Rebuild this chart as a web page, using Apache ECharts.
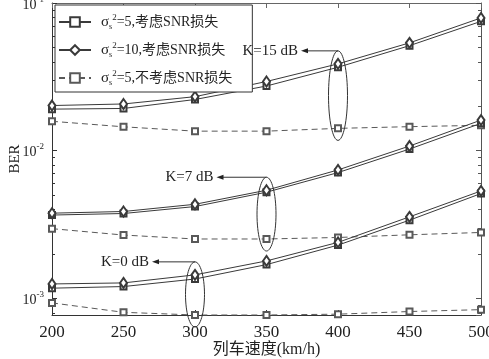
<!DOCTYPE html>
<html><head><meta charset="utf-8">
<script src="https://cdn.jsdelivr.net/npm/echarts@6/dist/echarts.min.js"></script>
<style>html,body{margin:0;padding:0;background:#fff}#c{width:489px;height:359px}</style>
</head><body><div id="c"></div>
<script>
// ---- data ----
const speeds = [200, 250, 300, 350, 400, 450, 500];
const xTicks = [200, 250, 300, 350, 400, 450, 500];
const yTickExps = [-3, -2, -1];
// K = 15 dB
const k15_s5_loss   = [0.0191, 0.0193, 0.0222, 0.0274, 0.0367, 0.0514, 0.0751];
const k15_s10_loss  = [0.0202, 0.0207, 0.0232, 0.0294, 0.0387, 0.0537, 0.0792];
const k15_s5_noloss = [0.0158, 0.0145, 0.01355, 0.01355, 0.01415, 0.01453, 0.01484];
// K = 7 dB
const k7_s5_loss    = [0.00366, 0.00375, 0.00418, 0.00523, 0.00710, 0.01025, 0.0153];
const k7_s10_loss   = [0.00377, 0.00387, 0.00433, 0.00539, 0.00740, 0.01074, 0.0161];
const k7_s5_noloss  = [0.00296, 0.00268, 0.00252, 0.00252, 0.00258, 0.00269, 0.00279];
// K = 0 dB
const k0_s5_loss    = [0.00117, 0.00120, 0.00135, 0.00169, 0.00229, 0.00338, 0.00512];
const k0_s10_loss   = [0.00125, 0.00127, 0.00144, 0.00179, 0.00239, 0.00356, 0.00533];
const k0_s5_noloss  = [0.00093, 0.000803, 0.00077, 0.00077, 0.00078, 0.000813, 0.000837];

const legendSigma = ['5', '10', '5'];
const legendSuffix = ['考虑SNR损失', '考虑SNR损失', '不考虑SNR损失'];
const annText = ['K=15 dB', 'K=7 dB', 'K=0 dB'];
const annSpeed = [400, 350, 300];
const xName = '列车速度(km/h)';
const yName = 'BER';

const yMin = 0.00077, yMax = 0.1;
const SERIF = '"Liberation Serif","Noto Sans CJK SC",serif';
const names = legendSigma.map((s, i) => 'σs2=' + s + ',' + legendSuffix[i]);

const groups = [
  [k15_s5_loss, k15_s10_loss, k15_s5_noloss],
  [k7_s5_loss, k7_s10_loss, k7_s5_noloss],
  [k0_s5_loss, k0_s10_loss, k0_s5_noloss]
];
const styles = [
  {symbol: 'emptyRect', symbolSize: 6, color: '#3a3a3a', type: 'solid'},
  {symbol: 'emptyDiamond', symbolSize: [7, 10], color: '#3a3a3a', type: 'solid'},
  {symbol: 'emptyRect', symbolSize: 6, color: '#595959', type: [6, 4]}
];
const series = [];
groups.forEach(g => g.forEach((vals, j) => {
  const st = styles[j];
  series.push({
    type: 'line', name: names[j], clip: false,
    data: speeds.map((x, i) => [x, vals[i]]),
    symbol: st.symbol, symbolSize: st.symbolSize, showAllSymbol: true,
    itemStyle: {color: st.color, borderColor: st.color, borderWidth: 1},
    lineStyle: {color: st.color, width: 1, type: st.type},
    emphasis: {disabled: true}, animation: false, z: 3
  });
}));

const chart = echarts.init(document.getElementById('c'), null, {renderer: 'canvas'});
const isPow = v => Math.abs(Math.log10(v) - Math.round(Math.log10(v))) < 1e-6;
const axisCol = '#333';
const option = {
  backgroundColor: '#fff',
  animation: false,
  grid: {left: 52, right: 8, top: 3, bottom: 44, containLabel: false, outerBoundsMode: 'none'},
  legend: {
    show: true, orient: 'vertical', left: 55, top: 5,
    data: names,
    backgroundColor: '#fff', borderColor: '#333', borderWidth: 1,
    padding: [8, 20, 5, 3], itemGap: 10, itemWidth: 32, itemHeight: 12,
    selectedMode: false,
    formatter: function (n) {
      const i = names.indexOf(n);
      return '{g|σ}{sub|s}{sup|2}{t|=' + legendSigma[i] + ',' + legendSuffix[i] + '}';
    },
    textStyle: {
      color: '#222', fontFamily: SERIF,
      rich: {
        g: {fontSize: 15, fontFamily: SERIF, padding: [0, 0, 0, 5], lineHeight: 18, color: '#222'},
        sub: {fontSize: 8, fontFamily: SERIF, verticalAlign: 'bottom', lineHeight: 18, color: '#222'},
        sup: {fontSize: 9, fontFamily: SERIF, verticalAlign: 'top', lineHeight: 18, color: '#222'},
        t: {fontSize: 14, fontFamily: SERIF, lineHeight: 18, color: '#222'}
      }
    }
  },
  xAxis: [{
    type: 'value', min: 200, max: 500, interval: 50, position: 'bottom',
    axisLine: {show: true, lineStyle: {color: axisCol, width: 1}},
    axisTick: {show: true, inside: true, length: 5, lineStyle: {color: axisCol}},
    axisLabel: {fontFamily: SERIF, fontSize: 17, color: '#222', margin: 9,
      formatter: v => xTicks.includes(v) ? String(v) : ''},
    splitLine: {show: false}
  }, {
    type: 'value', min: 200, max: 500, interval: 50, position: 'top',
    axisLine: {show: true, onZero: false, lineStyle: {color: '#666', width: 1}},
    axisTick: {show: true, inside: true, length: 5, lineStyle: {color: '#666'}},
    axisLabel: {show: false}, splitLine: {show: false}
  }],
  yAxis: [{
    type: 'log', logBase: 10, min: yMin, max: yMax, position: 'left',
    axisLine: {show: true, onZero: false, lineStyle: {color: axisCol, width: 1}},
    axisTick: {show: true, inside: true, length: 5, lineStyle: {color: axisCol}},
    axisLabel: {
      margin: 8, fontFamily: SERIF, color: '#222',
      formatter: v => isPow(v) && yTickExps.includes(Math.round(Math.log10(v))) ? '{b|10}{s|' + Math.round(Math.log10(v)) + '}' : '',
      rich: {
        b: {fontSize: 14, fontFamily: SERIF, lineHeight: 16, color: '#222', padding: [4, 0, 0, 0]},
        s: {fontSize: 9, fontFamily: SERIF, verticalAlign: 'top', lineHeight: 16, color: '#222'}
      }
    },
    splitLine: {show: false}
  }, {
    type: 'log', logBase: 10, min: yMin, max: yMax, position: 'right',
    axisLine: {show: true, onZero: false, lineStyle: {color: '#555', width: 1}},
    axisTick: {show: true, inside: true, length: 5, lineStyle: {color: '#555'}},
    axisLabel: {show: false}, splitLine: {show: false}
  }],
  series: series
};
chart.setOption(option);

// annotations, axis names + minor ticks
function px(x, y) { return chart.convertToPixel({xAxisIndex: 0, yAxisIndex: 0}, [x, y]); }
const graphics = [];
const pBL = px(200, yMin), pTR = px(500, yMax);
const gLeft = Math.round(pBL[0]), gRight = Math.round(pTR[0]);
const gTop = pTR[1], gBottom = pBL[1];
for (let n = -4; n <= -2; n++) {
  for (let m = 2; m <= 9; m++) {
    const v = m * Math.pow(10, n);
    if (v <= yMin || v >= yMax) continue;
    const y = Math.round(px(300, v)[1]) + 0.5;
    graphics.push({type: 'line', shape: {x1: gLeft, y1: y, x2: gLeft + 3, y2: y}, style: {stroke: '#333', lineWidth: 1}, silent: true});
    graphics.push({type: 'line', shape: {x1: gRight - 3, y1: y, x2: gRight, y2: y}, style: {stroke: '#555', lineWidth: 1}, silent: true});
  }
}
// axis names
graphics.push({type: 'text', x: (gLeft + gRight) / 2, y: gBottom + 35, silent: true,
  style: {text: xName, fill: '#222', font: '16px ' + SERIF, textAlign: 'center', textVerticalAlign: 'middle'}});
graphics.push({type: 'text', x: gLeft - 37, y: (gTop + gBottom) / 2, rotation: Math.PI / 2, silent: true,
  style: {text: yName, fill: '#222', font: '15px ' + SERIF, textAlign: 'center', textVerticalAlign: 'middle'}});

const arrowLen = [37, 50, 43];
annSpeed.forEach((sp, i) => {
  const idx = speeds.indexOf(sp);
  const g = groups[i];
  const topPt = px(sp, g[1][idx]);
  const botPt = px(sp, g[2][idx]);
  const top = topPt[1] - 13, bot = botPt[1] + 12;
  const cx = topPt[0];
  graphics.push({type: 'ellipse', shape: {cx: cx, cy: (top + bot) / 2, rx: 9.5, ry: (bot - top) / 2},
    style: {fill: 'none', stroke: '#333', lineWidth: 1}, z: 10, silent: true});
  const ay = top;
  const ax = cx - arrowLen[i];
  graphics.push({type: 'line', shape: {x1: cx, y1: ay, x2: ax + 5, y2: ay}, style: {stroke: '#333', lineWidth: 1}, z: 10, silent: true});
  graphics.push({type: 'polygon', shape: {points: [[ax, ay], [ax + 7, ay - 2.5], [ax + 7, ay + 2.5]]}, style: {fill: '#222'}, z: 10, silent: true});
  graphics.push({type: 'text', x: ax - 3, y: ay, z: 10, silent: true,
    style: {text: annText[i], fill: '#222', font: '15px ' + SERIF, textAlign: 'right', textVerticalAlign: 'middle'}});
});
chart.setOption({graphic: graphics});
</script>
</body></html>
